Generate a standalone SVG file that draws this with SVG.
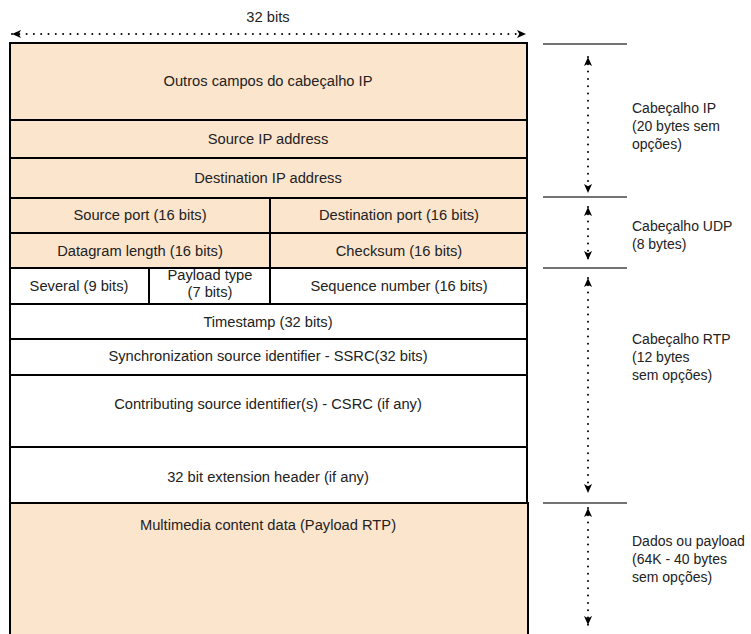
<svg xmlns="http://www.w3.org/2000/svg" width="751" height="634" viewBox="0 0 751 634">
  <style>
    .cell { stroke: #000; stroke-width: 2; }
    .hdr { fill: #fce5cd; }
    .rtp { fill: #ffffff; }
    .t { font-family: "Liberation Sans", Arial, sans-serif; font-size: 14.7px; fill: #222; text-anchor: middle; }
    .side { font-family: "Liberation Sans", Arial, sans-serif; font-size: 14px; fill: #222; }
    .dot { stroke: #000; stroke-width: 2; stroke-dasharray: 0 7.3; stroke-linecap: round; fill: none; }
    .tick { stroke: #444; stroke-width: 1.3; }
  </style>
  <defs>
    <marker id="ah" viewBox="0 0 10 10" refX="10" refY="5" markerWidth="10" markerHeight="9" markerUnits="userSpaceOnUse" orient="auto-start-reverse">
      <path d="M0,0.5 L10,5 L0,9.5 L2.5,5 Z" fill="#000"/>
    </marker>
  </defs>
  <rect width="751" height="634" fill="#fff"/>

  <g id="width-label">
    <text class="t" x="268" y="22">32 bits</text>
  </g>

  <g id="ip-other"><rect class="cell hdr" x="10" y="43" width="517" height="77"/><text class="t" x="268" y="86">Outros campos do cabeçalho IP</text></g>
  <g id="ip-src"><rect class="cell hdr" x="10" y="120" width="517" height="38"/><text class="t" x="268" y="144">Source IP address</text></g>
  <g id="ip-dst"><rect class="cell hdr" x="10" y="158" width="517" height="40"/><text class="t" x="268" y="183">Destination IP address</text></g>
  <g id="udp-srcport"><rect class="cell hdr" x="10" y="198" width="260" height="35"/><text class="t" x="140" y="220">Source port (16 bits)</text></g>
  <g id="udp-dstport"><rect class="cell hdr" x="270" y="198" width="257" height="35"/><text class="t" x="399" y="220">Destination port (16 bits)</text></g>
  <g id="udp-len"><rect class="cell hdr" x="10" y="233" width="260" height="35"/><text class="t" x="140" y="256">Datagram length (16 bits)</text></g>
  <g id="udp-chk"><rect class="cell hdr" x="270" y="233" width="257" height="35"/><text class="t" x="399" y="256">Checksum (16 bits)</text></g>
  <g id="rtp-several"><rect class="cell rtp" x="10" y="268" width="139" height="36"/><text class="t" x="79" y="291">Several (9 bits)</text></g>
  <g id="rtp-pt"><rect class="cell rtp" x="149" y="268" width="121" height="36"/><text class="t" x="210" y="280">Payload type</text><text class="t" x="210" y="297">(7 bits)</text></g>
  <g id="rtp-seq"><rect class="cell rtp" x="270" y="268" width="257" height="36"/><text class="t" x="399" y="291">Sequence number (16 bits)</text></g>
  <g id="rtp-ts"><rect class="cell rtp" x="10" y="304" width="517" height="35"/><text class="t" x="268" y="327">Timestamp (32 bits)</text></g>
  <g id="rtp-ssrc"><rect class="cell rtp" x="10" y="339" width="517" height="36"/><text class="t" x="268" y="361">Synchronization source identifier - SSRC(32 bits)</text></g>
  <g id="rtp-csrc"><rect class="cell rtp" x="10" y="375" width="517" height="72"/><text class="t" x="268" y="409">Contributing source identifier(s) - CSRC (if any)</text></g>
  <g id="rtp-ext"><rect class="cell rtp" x="10" y="447" width="517" height="56"/><text class="t" x="268" y="482">32 bit extension header (if any)</text></g>
  <g id="payload"><rect class="cell hdr" x="10" y="503" width="518" height="150" stroke-width="2.5"/><text class="t" x="268" y="530">Multimedia content data (Payload RTP)</text></g>

  <g id="ticks">
    <line class="tick" x1="543" y1="44" x2="627" y2="44"/>
    <line class="tick" x1="543" y1="197" x2="627" y2="197"/>
    <line class="tick" x1="543" y1="268" x2="627" y2="268"/>
    <line class="tick" x1="543" y1="503" x2="627" y2="503"/>
  </g>

  <g id="connectors">
    <line class="dot" x1="12" y1="34" x2="526" y2="34" marker-start="url(#ah)" marker-end="url(#ah)"/>
    <line class="dot" x1="588" y1="57" x2="588" y2="193" marker-start="url(#ah)" marker-end="url(#ah)"/>
    <line class="dot" x1="588" y1="207" x2="588" y2="260" marker-start="url(#ah)" marker-end="url(#ah)"/>
    <line class="dot" x1="588" y1="278" x2="588" y2="493" marker-start="url(#ah)" marker-end="url(#ah)"/>
    <line class="dot" x1="588" y1="508" x2="588" y2="625" marker-start="url(#ah)" marker-end="url(#ah)"/>
  </g>

  <g id="label-ip"><text class="side" x="632" y="113">Cabeçalho IP</text><text class="side" x="632" y="131">(20 bytes sem</text><text class="side" x="632" y="149">opções)</text></g>
  <g id="label-udp"><text class="side" x="632" y="231">Cabeçalho UDP</text><text class="side" x="632" y="249">(8 bytes)</text></g>
  <g id="label-rtp"><text class="side" x="632" y="344">Cabeçalho RTP</text><text class="side" x="632" y="362">(12 bytes</text><text class="side" x="632" y="380">sem opções)</text></g>
  <g id="label-payload"><text class="side" x="632" y="546">Dados ou payload</text><text class="side" x="632" y="564">(64K - 40 bytes</text><text class="side" x="632" y="582">sem opções)</text></g>
</svg>
